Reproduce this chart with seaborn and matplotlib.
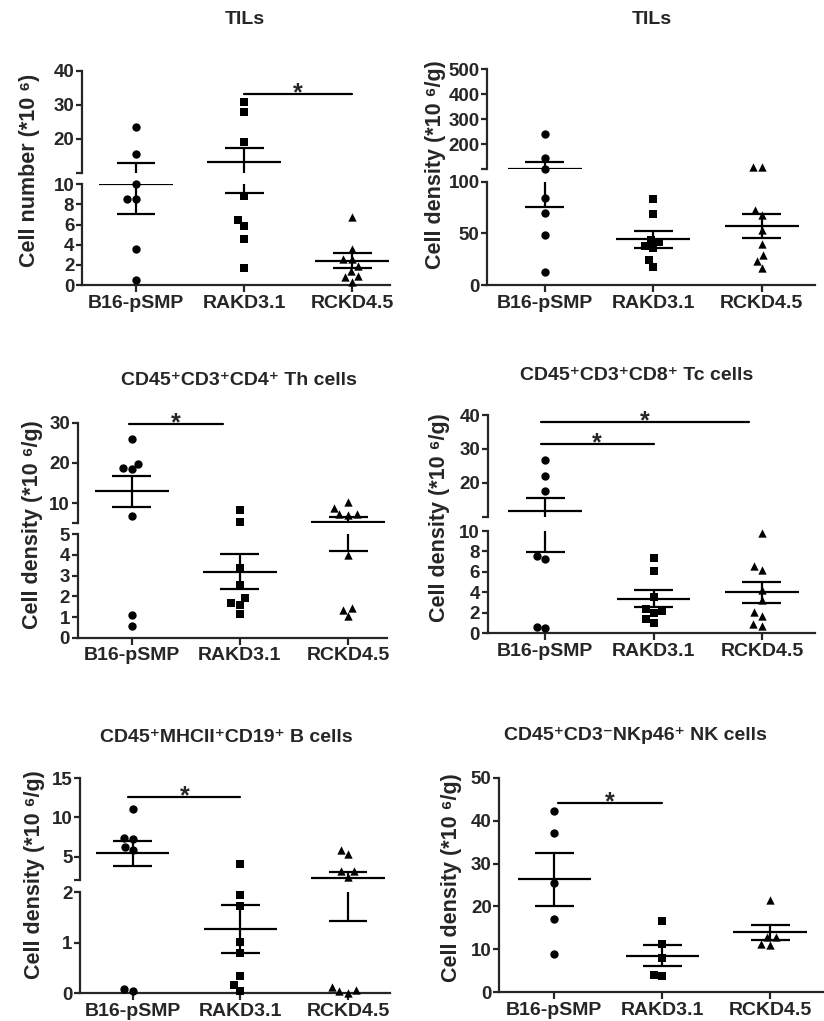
import numpy as np
import pandas as pd
import matplotlib
matplotlib.use('Agg')
import matplotlib.pyplot as plt
import seaborn as sns

sns.set_style('ticks')
plt.rcParams['font.family'] = ['Liberation Sans', 'DejaVu Sans']
plt.rcParams['font.weight'] = 'bold'
plt.rcParams['axes.linewidth'] = 1.6

GROUPS = ['B16-pSMP', 'RAKD3.1', 'RCKD4.5']
MARKERS = ['o', 's', '^']

# ---- 数据----
# TILs 细胞数
til_num_b16 = [23.5, 15.6, 10.0, 8.5, 8.5, 3.6, 0.5]
til_num_rakd = [30.9, 27.8, 19.1, 8.8, 6.5, 5.9, 4.6, 1.7]
til_num_rckd = [6.8, 3.6, 2.6, 2.6, 1.9, 1.4, 0.9, 0.8, 0.3]
til_num_mean = [10.0, 13.2, 2.4]
til_num_sem = [2.9, 4.1, 0.75]

# TILs 密度
til_den_b16 = [240, 146, 102, 84.5, 70, 48.4, 12.3]
til_den_rakd = [83, 69, 44, 42, 38, 36, 24, 17]
til_den_rckd = [110, 110, 73, 68, 53, 40, 29, 23, 16]
til_den_mean = [102, 44.2, 57.1]
til_den_sem = [26.6, 8.0, 11.3]

# Th cells
th_b16 = [25.9, 19.8, 18.8, 18.4, 6.8, 1.1, 0.56]
th_rakd = [8.2, 5.3, 3.35, 2.55, 1.9, 1.67, 1.58, 1.17]
th_rckd = [10.4, 8.75, 7.2, 7.2, 7.0, 4.0, 1.45, 1.36, 1.03]
th_mean = [13.0, 3.2, 5.4]
th_sem = [3.85, 0.85, 1.2]

# Tc cells
tc_b16 = [26.7, 22.1, 17.7, 7.6, 7.3, 0.65, 0.5]
tc_rakd = [7.4, 6.1, 3.5, 2.4, 2.2, 2.0, 1.4, 1.0]
tc_rckd = [9.8, 6.6, 6.2, 4.2, 3.3, 2.1, 1.7, 0.9, 0.7]
tc_mean = [11.7, 3.4, 4.0]
tc_sem = [3.8, 0.8, 1.0]

# B cells
b_b16 = [11.1, 7.35, 7.2, 6.25, 5.8, 0.08, 0.05]
b_rakd = [4.1, 1.95, 1.72, 1.02, 0.8, 0.34, 0.17, 0.05]
b_rckd = [5.85, 5.3, 3.2, 3.1, 2.4, 0.12, 0.07, 0.04, 0.01]
b_mean = [5.4, 1.27, 2.24]
b_sem = [1.6, 0.48, 0.8]

# NK cells
nk_b16 = [42.3, 37.1, 25.4, 17.1, 8.9]
nk_rakd = [16.7, 11.3, 7.9, 4.0, 3.8]
nk_rckd = [21.4, 13.0, 12.8, 11.2, 11.0]
nk_mean = [26.3, 8.5, 14.0]
nk_sem = [6.1, 2.45, 1.7]

# 显著性标记 (起点组, 终点组, y)
til_num_sig = [(1.0, 2.0, 33.1)]
th_sig = [(-0.03, 0.84, 29.6)]
tc_sig = [(-0.04, 1.88, 37.8), (-0.04, 1.0, 31.4)]
b_sig = [(-0.04, 1.0, 12.65)]
nk_sig = [(0.03, 1.0, 44.0)]

YLAB_NUM = 'Cell number (*10 \u2076)'
YLAB_DEN = 'Cell density (*10 \u2076/g)'

# ---- 画布 ----
W, H = 824, 1021
fig = plt.figure(figsize=(W / 100, H / 100), dpi=100)


def px_axes(x0, x1, yt, yb):
    return fig.add_axes([x0 / W, 1 - yb / H, (x1 - x0) / W, (yb - yt) / H])


def draw_panel(points, means, sems, segs, x0, x1, xlim, sigs,
               title, title_xy, ylabel, ylabel_xy):
    n = len(segs)
    first_ax = None
    for i, (yt, yb, lo, hi, ticks) in enumerate(segs):
        ax = px_axes(x0, x1, yt, yb)
        bottom = i == n - 1
        below = segs[i + 1][3] if not bottom else -np.inf
        for g, vals, mk in zip(GROUPS, points, MARKERS):
            keep = [v for v in vals if v > below and (i == 0 or v <= hi)]
            if not keep:
                continue
            df = pd.DataFrame({'group': g, 'value': keep})
            sns.swarmplot(data=df, x='group', y='value', order=GROUPS,
                          marker=mk, color='black', size=6, ax=ax)
        for c in ax.collections:
            c.set_clip_on(False)
        # 均值 ± SEM（横线只画在所属的轴段内）
        for k, (m, s) in enumerate(zip(means, sems)):
            for y, hw in [(m, 0.34), (m - s, 0.18), (m + s, 0.18)]:
                if y > below and (i == 0 or y <= hi):
                    ax.hlines(y, k - hw, k + hw, color='black', lw=1.6)
            ax.vlines(k, m - s, m + s, color='black', lw=1.6)
        ax.set_ylim(lo, hi)
        ax.set_xlim(*xlim)
        ax.set_xlabel('')
        ax.set_ylabel('')
        if bottom:
            ax.set_yticks(ticks)
            ax.set_xticks(range(3), GROUPS, fontsize=14)
            sns.despine(ax=ax)
        else:
            ax.set_yticks([lo] + ticks, [''] + [str(t) for t in ticks])
            ax.set_xticks([])
            sns.despine(ax=ax, bottom=True)
        ax.tick_params(axis='y', width=1.6, length=4, labelsize=13.5, pad=1.5)
        ax.tick_params(axis='x', width=1.6, length=5, pad=2)
        if first_ax is None:
            first_ax = ax
    for a, b, y in sigs:
        first_ax.plot([a, b], [y, y], color='black', lw=1.6, clip_on=False)
        first_ax.annotate('*', xy=((a + b) / 2, y), xytext=(0, -4.5),
                          textcoords='offset points', ha='center', va='baseline',
                          fontsize=18, fontweight='bold', annotation_clip=False)
    fig.text(title_xy[0] / W, 1 - title_xy[1] / H, title, ha='center', va='center',
             fontsize=14, fontweight='bold')
    fig.text(ylabel_xy[0] / W, 1 - ylabel_xy[1] / H, ylabel, ha='center', va='center',
             rotation=90, fontsize=15.5, fontweight='bold')


draw_panel([til_num_b16, til_num_rakd, til_num_rckd], til_num_mean, til_num_sem,
           [(70.7, 172.7, 10, 40, [20, 30, 40]),
            (184.3, 285, 0, 10, [0, 2, 4, 6, 8, 10])],
           82, 390, (-0.5, 2.35), til_num_sig,
           'TILs', (245, 20), YLAB_NUM, (30, 170))

draw_panel([til_den_b16, til_den_rakd, til_den_rckd], til_den_mean, til_den_sem,
           [(69.3, 169.3, 100, 500, [200, 300, 400, 500]),
            (181.7, 285, 0, 100, [0, 50, 100])],
           487.3, 815, (-0.53, 2.49), [],
           'TILs', (652, 20), YLAB_DEN, (435, 165))

draw_panel([th_b16, th_rakd, th_rckd], th_mean, th_sem,
           [(422.7, 523.3, 5, 30, [10, 20, 30]),
            (534.3, 637.7, 0, 5, [0, 1, 2, 3, 4, 5])],
           77.7, 387, (-0.5, 2.36), th_sig,
           'CD45\u207aCD3\u207aCD4\u207a Th cells', (239, 380), YLAB_DEN, (33, 525))

draw_panel([tc_b16, tc_rakd, tc_rckd], tc_mean, tc_sem,
           [(415, 516.7, 10, 40, [20, 30, 40]),
            (531, 633.3, 0, 10, [0, 2, 4, 6, 8, 10])],
           487.7, 815, (-0.53, 2.49), tc_sig,
           'CD45\u207aCD3\u207aCD8\u207a Tc cells', (637, 375), YLAB_DEN, (440, 518))

draw_panel([b_b16, b_rakd, b_rckd], b_mean, b_sem,
           [(778.3, 880, 2, 15, [5, 10, 15]),
            (892.3, 993.3, 0, 2, [0, 1, 2])],
           80, 390, (-0.49, 2.39), b_sig,
           'CD45\u207aMHCII\u207aCD19\u207a B cells', (226, 737), YLAB_DEN, (35, 875))

draw_panel([nk_b16, nk_rakd, nk_rckd], nk_mean, nk_sem,
           [(777.7, 992.3, 0, 50, [0, 10, 20, 30, 40, 50])],
           499.3, 823, (-0.51, 2.49), nk_sig,
           'CD45\u207aCD3\u207bNKp46\u207a NK cells', (635, 735), YLAB_DEN, (452, 878))

fig.savefig('out.png', dpi=100)
